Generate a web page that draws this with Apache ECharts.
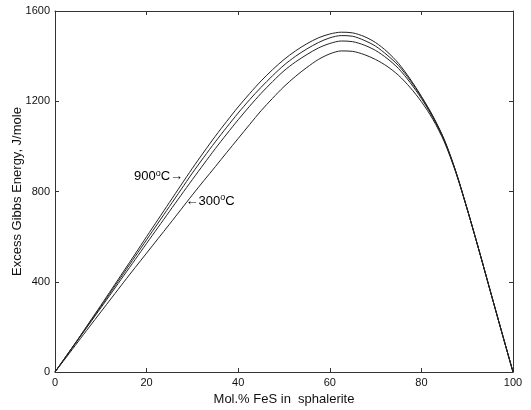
<!DOCTYPE html>
<html>
<head>
<meta charset="utf-8">
<script src="https://cdn.jsdelivr.net/npm/echarts@6/dist/echarts.min.js"></script>
<style>
  html, body { margin: 0; padding: 0; background: #fff; }
  #chart { width: 531px; height: 410px; }
</style>
</head>
<body>
<div id="chart"></div>
<script>
// mol.% FeS, every 2.5
var molFeS = [0, 2.5, 5, 7.5, 10, 12.5, 15, 17.5, 20, 22.5, 25, 27.5, 30, 32.5, 35, 37.5, 40, 42.5, 45, 47.5,
  50, 52.5, 55, 57.5, 60, 62.5, 65, 67.5, 70, 72.5, 75, 77.5, 80, 82.5, 85, 87.5, 90, 92.5, 95, 97.5, 100];
// excess Gibbs energy, J/mole, top curve (900 C) down to bottom curve (300 C)
var g900 = [0, 72, 145, 220, 295, 371, 447, 523, 600, 676, 752, 828, 903, 975, 1045, 1111, 1175, 1234, 1290, 1340,
  1385, 1423, 1455, 1481, 1498, 1506, 1503, 1487, 1460, 1420, 1368, 1300, 1222, 1135, 1030, 890, 722, 545, 362, 180, 0];
var gB = [0, 72, 144, 217, 290, 364, 438, 512, 586, 660, 734, 808, 882, 952, 1020, 1085, 1148, 1207, 1262, 1313,
  1360, 1399, 1432, 1460, 1481, 1491, 1488, 1470, 1444, 1405, 1358, 1294, 1218, 1132, 1028, 889, 722, 545, 362, 180, 0];
var gC = [0, 71, 142, 213, 284, 355, 427, 498, 570, 641, 712, 783, 853, 922, 990, 1055, 1118, 1178, 1235, 1287,
  1335, 1374, 1407, 1436, 1456, 1467, 1464, 1449, 1425, 1390, 1345, 1284, 1212, 1128, 1025, 888, 722, 545, 362, 180, 0];
var g300 = [0, 66, 133, 200, 266, 332, 398, 463, 527, 591, 655, 720, 785, 848, 910, 973, 1035, 1097, 1158, 1213,
  1265, 1310, 1350, 1385, 1410, 1423, 1421, 1407, 1385, 1355, 1315, 1262, 1198, 1120, 1020, 885, 722, 545, 362, 180, 0];
var xTicks = [0, 20, 40, 60, 80, 100];
var yTicks = [0, 400, 800, 1200, 1600];

function pairs(ys) {
  return molFeS.map(function (x, i) { return [x, ys[i]]; });
}

var font = 'Liberation Sans, Arial, sans-serif';
var lineCol = '#222';

function line(ys) {
  return {
    type: 'line',
    data: pairs(ys),
    smooth: 0.3,
    showSymbol: false,
    lineStyle: { color: lineCol, width: 1 },
    silent: true
  };
}

var axisLine = { show: true, onZero: false, lineStyle: { color: '#333', width: 1 } };
var axisTick = { show: true, inside: true, length: 4, lineStyle: { color: '#333' } };

var myChart = echarts.init(document.getElementById('chart'));
var option = {
  animation: false,
  backgroundColor: '#fff',
  grid: { left: 55, right: 18, top: 11, bottom: 38, outerBoundsMode: 'none' },
  xAxis: [
    {
      type: 'value', min: xTicks[0], max: xTicks[xTicks.length - 1], interval: 20,
      axisLine: axisLine, axisTick: axisTick,
      splitLine: { show: false },
      axisLabel: { color: '#111', fontFamily: font, fontSize: 11, margin: 5, formatter: function (v) { return String(v); } },
      name: 'Mol.% FeS in  sphalerite',
      nameLocation: 'middle', nameGap: 21,
      nameTextStyle: { color: '#111', fontFamily: font, fontSize: 13 }
    },
    {
      type: 'value', min: 0, max: 100, interval: 20, position: 'top',
      axisLine: axisLine, axisTick: axisTick,
      splitLine: { show: false }, axisLabel: { show: false }
    }
  ],
  yAxis: [
    {
      type: 'value', min: yTicks[0], max: yTicks[yTicks.length - 1], interval: 400,
      axisLine: axisLine, axisTick: axisTick,
      splitLine: { show: false },
      axisLabel: { color: '#111', fontFamily: font, fontSize: 11, margin: 5, formatter: function (v) { return String(v); } },
      name: 'Excess Gibbs Energy, J/mole',
      nameLocation: 'middle', nameGap: 31, nameMoveOverlap: false,
      nameTextStyle: { color: '#111', fontFamily: font, fontSize: 13 }
    },
    {
      type: 'value', min: 0, max: 1600, interval: 400, position: 'right',
      axisLine: axisLine, axisTick: axisTick,
      splitLine: { show: false }, axisLabel: { show: false }
    }
  ],
  series: [line(g900), line(gB), line(gC), line(g300)]
};
myChart.setOption(option);

// annotations placed from data coordinates
var rich = {
  n: { fontFamily: font, fontSize: 13, color: '#111' },
  s: { fontFamily: font, fontSize: 9, color: '#111', verticalAlign: 'top', padding: [0, 0, 7, 0] }
};
var p900 = myChart.convertToPixel({ xAxisIndex: 0, yAxisIndex: 0 }, [28.4, 866]);
var p300 = myChart.convertToPixel({ xAxisIndex: 0, yAxisIndex: 0 }, [28.3, 756]);
myChart.setOption({
  graphic: [
    {
      type: 'text', x: p900[0] - 2, y: p900[1], silent: true,
      style: { text: '{n|900}{s|o}{n|C→}', rich: rich, align: 'right', verticalAlign: 'middle' }
    },
    {
      type: 'text', x: p300[0] + 1, y: p300[1], silent: true,
      style: { text: '{n|←300}{s|o}{n|C}', rich: rich, align: 'left', verticalAlign: 'middle' }
    }
  ]
});
</script>
</body>
</html>
